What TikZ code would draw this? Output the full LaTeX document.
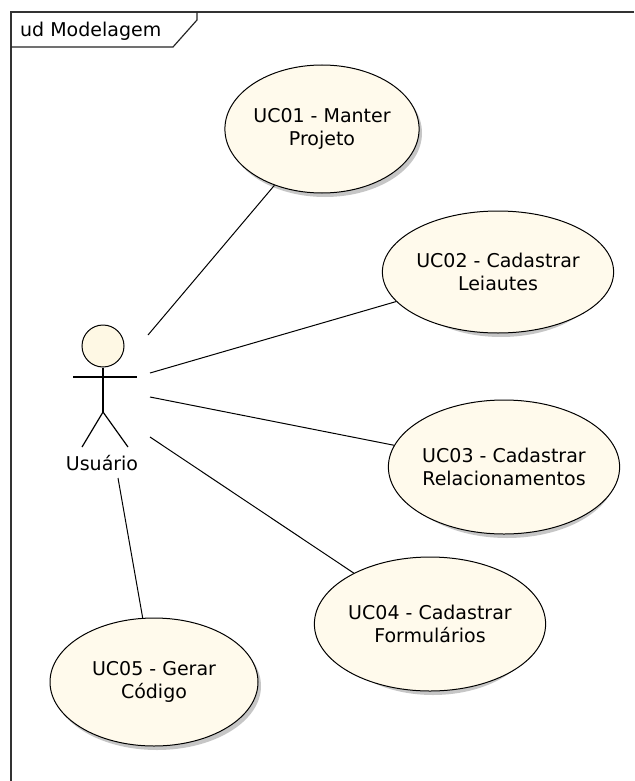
\documentclass[tikz,border=0pt]{standalone}
\usepackage{fontspec}
\setmainfont{DejaVu Sans}
\usetikzlibrary{shapes.geometric}
\definecolor{ucfill}{RGB}{255,250,236}
\definecolor{headfill}{RGB}{254,248,228}
\definecolor{shade}{RGB}{175,175,175}
\tikzset{
  uc/.style={ellipse, draw=black, line width=1pt, fill=ucfill, inner sep=0pt,
    align=center, font=\fontsize{19}{23}\selectfont},
  ucshadow/.style={ellipse, fill=shade, draw=none, inner sep=0pt, opacity=0.7},
  assoc/.style={draw=black, line width=1pt},
  actorline/.style={draw=black, line width=1.2pt},
  frameline/.style={draw=black!80, line width=1.5pt},
  lbl/.style={font=\fontsize{19}{23}\selectfont, inner sep=0pt}
}
\begin{document}
\begin{tikzpicture}[x=1pt,y=-1pt]
\useasboundingbox (0,0) rectangle (634,781);
\fill[white] (0,0) rectangle (634,781);
% frame
\draw[frameline] (634,12) -- (11,12) -- (11,781);
\draw[line width=1.2pt, draw=black!85] (197,12) -- (197,20) -- (173,47) -- (11,47);
\node[lbl, anchor=west] (title) at (20,31) {ud Modelagem};
% shadows
\node[ucshadow, minimum width=194, minimum height=128] at (325,133) {};
\node[ucshadow, minimum width=204, minimum height=122] at (501,276) {};
\node[ucshadow, minimum width=220, minimum height=134] at (507,471) {};
\node[ucshadow, minimum width=208, minimum height=134] at (433,628) {};
\node[ucshadow, minimum width=208, minimum height=128] at (157,686) {};
% use cases
\node[uc, minimum width=194, minimum height=128] (uc1) at (322,129) {UC01 - Manter\\Projeto};
\node[uc, minimum width=204, minimum height=122] (uc2) at (498,272) {UC02 - Cadastrar\\Leiautes};
\node[uc, minimum width=220, minimum height=134] (uc3) at (504,467) {UC03 - Cadastrar\\Relacionamentos};
\node[uc, minimum width=208, minimum height=134] (uc4) at (430,624) {UC04 - Cadastrar\\Formulários};
\node[uc, minimum width=208, minimum height=128] (uc5) at (154,682) {UC05 - Gerar\\Código};
% actor
\node[circle, draw=black, line width=1pt, fill=headfill, minimum size=42, inner sep=0pt] (head) at (103,346) {};
\coordinate (neck) at (103,367);
\coordinate (hip) at (103,412);
\coordinate (armL) at (73,377);
\coordinate (armR) at (137,377);
\coordinate (legL) at (82,447);
\coordinate (legR) at (128,447);
\draw[actorline] (head.south) -- (hip);
\draw[actorline] (armL) -- (armR);
\draw[actorline] (legL) -- (hip) -- (legR);
\node[lbl] (actor) at (102,463) {Usuário};
% associations
\coordinate (a1) at (148,335);
\coordinate (a2) at (150,373);
\coordinate (a3) at (150,397);
\coordinate (a4) at (150,437);
\coordinate (a5) at (118,478);
\draw[assoc] (a1) -- (uc1);
\draw[assoc] (a2) -- (uc2);
\draw[assoc] (a3) -- (uc3);
\draw[assoc] (a4) -- (uc4);
\draw[assoc] (a5) -- (uc5);
\end{tikzpicture}
\end{document}
